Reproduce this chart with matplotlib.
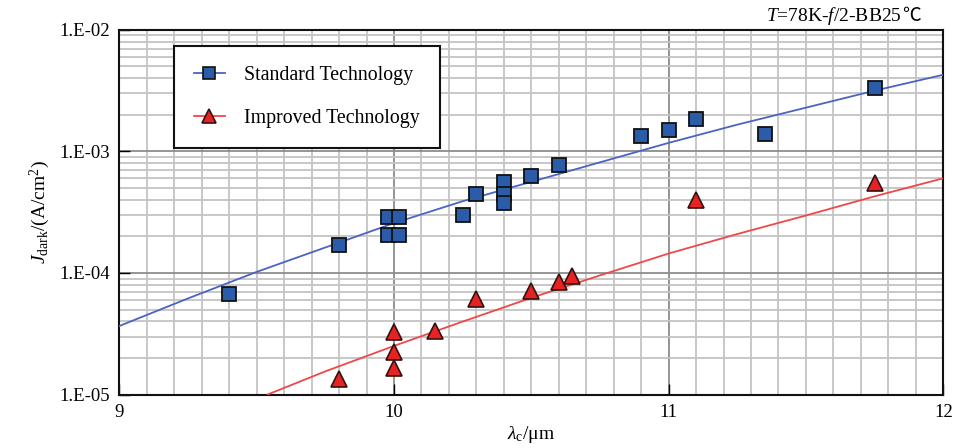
import matplotlib
matplotlib.use("Agg")
import matplotlib.pyplot as plt
from matplotlib.ticker import MultipleLocator, LogLocator, FixedLocator, FixedFormatter
from matplotlib.lines import Line2D

plt.rcParams['font.family'] = ['Liberation Serif', 'DejaVu Serif']
plt.rcParams['mathtext.fontset'] = 'custom'
plt.rcParams['mathtext.rm'] = 'Liberation Serif'
plt.rcParams['mathtext.it'] = 'Liberation Serif:italic'

# 측정점 (Standard Technology)
std_x = [9.40, 9.80, 9.98, 10.02, 9.98, 10.02, 10.25, 10.30, 10.40, 10.40, 10.40,
         10.50, 10.60, 10.90, 11.00, 11.10, 11.35, 11.75]
std_y = [6.7e-5, 1.71e-4, 2.88e-4, 2.88e-4, 2.07e-4, 2.07e-4, 3.0e-4, 4.5e-4, 5.6e-4, 4.5e-4, 3.75e-4,
         6.25e-4, 7.7e-4, 1.35e-3, 1.50e-3, 1.86e-3, 1.39e-3, 3.3e-3]

# 측정점 (Improved Technology)
imp_x = [9.80, 10.00, 10.00, 10.00, 10.15, 10.30, 10.50, 10.60, 10.65, 11.10, 11.75]
imp_y = [1.34e-5, 3.29e-5, 2.22e-5, 1.66e-5, 3.3e-5, 6.1e-5, 7.05e-5, 8.4e-5, 9.5e-5, 3.95e-4, 5.5e-4]

# 모델 곡선
std_fit_x = [9.0, 9.25, 9.5, 9.75, 10.0, 10.25, 10.5, 10.75, 11.0, 11.25, 11.5, 11.75, 12.0]
std_fit_y = [3.66e-5, 6.17e-5, 1.02e-4, 1.62e-4, 2.57e-4, 3.89e-4, 5.62e-4, 8.13e-4,
             1.175e-3, 1.66e-3, 2.29e-3, 3.16e-3, 4.27e-3]
imp_fit_x = [9.54, 9.75, 10.0, 10.25, 10.5, 10.75, 11.0, 11.25, 11.5, 11.75, 12.0]
imp_fit_y = [1.0e-5, 1.55e-5, 2.51e-5, 3.98e-5, 6.24e-5, 9.55e-5, 1.445e-4, 2.09e-4,
             2.97e-4, 4.27e-4, 6.01e-4]

y_ticks = [1e-5, 1e-4, 1e-3, 1e-2]
y_labels = ['1.E-05', '1.E-04', '1.E-03', '1.E-02']

fig = plt.figure(figsize=(9.66, 4.48), dpi=100)
ax = fig.add_axes([0.1235, 0.1194, 0.853, 0.814])

ax.plot(std_fit_x, std_fit_y, color='#4a64c4', lw=1.3, zorder=3)
ax.plot(imp_fit_x, imp_fit_y, color='#f04848', lw=1.3, zorder=3)
ax.plot(std_x, std_y, ls='none', marker='s', ms=10, mfc='#2a5caa', mec='#111111', mew=1.3, zorder=4)
ax.plot(imp_x, imp_y, ls='none', marker='^', ms=11.5, mfc='#e82222', mec='#331111', mew=1.2, zorder=4)

ax.set_yscale('log')
ax.set_xlim(9, 12)
ax.set_ylim(1e-5, 1e-2)

ax.xaxis.set_major_locator(MultipleLocator(1))
ax.xaxis.set_minor_locator(MultipleLocator(0.1))
ax.yaxis.set_major_locator(FixedLocator(y_ticks))
ax.yaxis.set_major_formatter(FixedFormatter(y_labels))
ax.yaxis.set_minor_locator(LogLocator(base=10, subs=range(2, 10)))
ax.yaxis.set_minor_formatter(plt.NullFormatter())

ax.grid(which='minor', color='#c4c4c4', lw=1.3, zorder=0)
ax.grid(which='major', color='#8c8c8c', lw=1.3, zorder=0)
ax.set_axisbelow(True)

ax.tick_params(which='major', direction='in', length=8, width=1, labelsize=13.5)
ax.tick_params(which='minor', length=0)
ax.tick_params(axis='y', pad=7)
ax.tick_params(axis='x', pad=7)
for s in ax.spines.values():
    s.set_linewidth(1.5)
    s.set_color('#111111')

ax.set_xlabel(r'$\lambda_{\rm c}$/μm', fontsize=14, labelpad=2)
ax.set_ylabel(r'$J_{\rm dark}$/(A/cm$^{2}$)', fontsize=14, labelpad=5)

# 제목 (℃는 다른 폰트로)
fig.canvas.draw()
r = fig.canvas.get_renderer()
deg = fig.text(0.953, 0.965, '℃', ha='right', va='center', fontsize=13.5,
               family=['Noto Sans CJK SC', 'DejaVu Sans'])
bb = deg.get_window_extent(renderer=r)
fig.text(bb.x0 / fig.bbox.width, 0.965, r'$T$=78K-$f$/2-BB25', ha='right', va='center', fontsize=14)

# 범례
h1 = Line2D([], [], color='#4a64c4', lw=1.3, marker='s', ms=8, mfc='#2a5caa', mec='#111111', mew=1.2)
h2 = Line2D([], [], color='#f04848', lw=1.3, marker='^', ms=10, mfc='#e82222', mec='#331111', mew=1.2)
leg = ax.legend([h1, h2], ['Standard Technology', 'Improved Technology'],
                loc='upper left', bbox_to_anchor=(0.066, 0.955), fontsize=14.3,
                frameon=True, fancybox=False, edgecolor='#111111', framealpha=1,
                borderpad=1.0, labelspacing=1.2, handlelength=1.6, handletextpad=0.95,
                borderaxespad=0)
leg.get_frame().set_linewidth(1.5)
leg.set_zorder(6)

fig.savefig('out.png', dpi=100)
